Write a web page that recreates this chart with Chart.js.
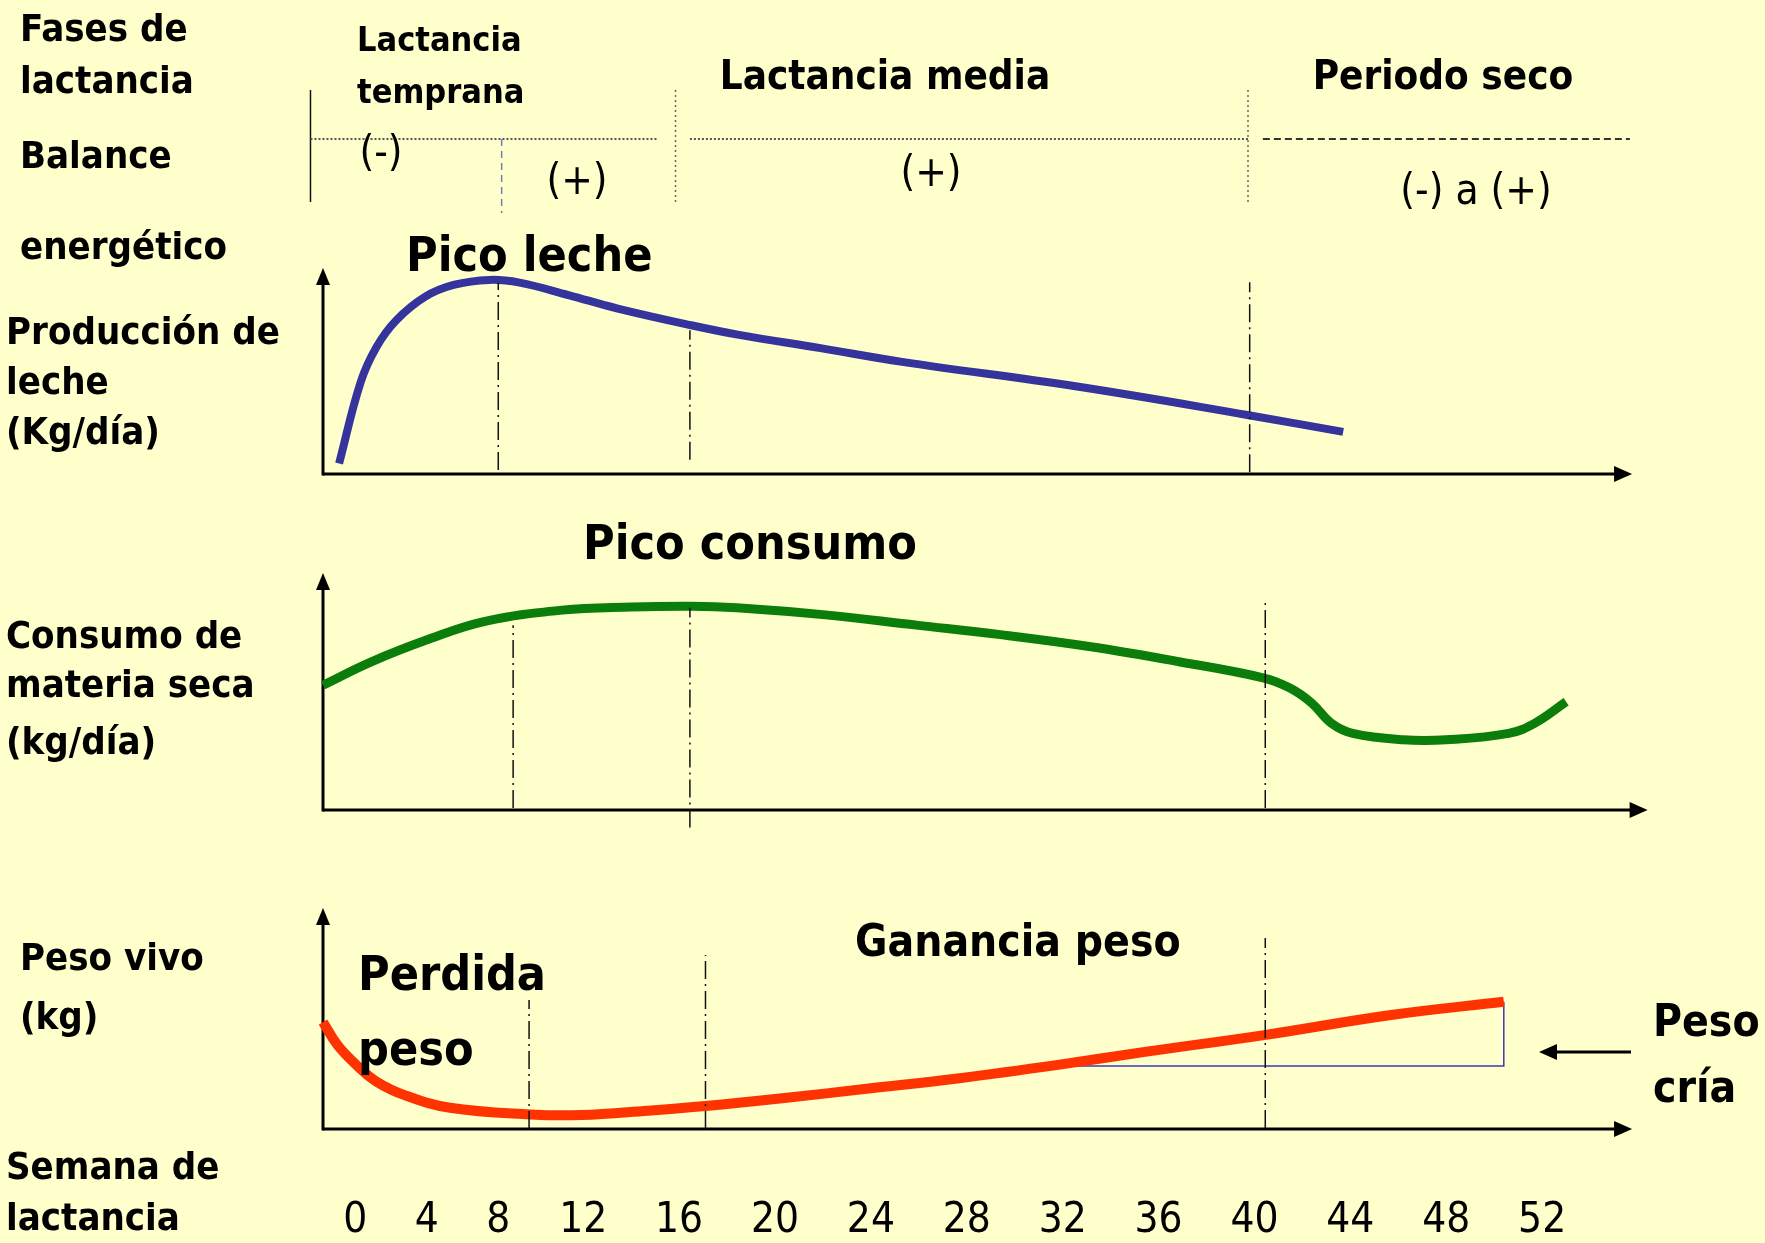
<!DOCTYPE html>
<html lang="es">
<head>
<meta charset="utf-8">
<title>Fases de lactancia</title>
<script src="https://cdn.jsdelivr.net/npm/chart.js@4.4.1/dist/chart.umd.min.js"></script>
<style>
  html, body { margin: 0; padding: 0; background: #ffffcc; }
  #grafico { display: block; }
</style>
</head>
<body>
<canvas id="grafico" width="1765" height="1243"></canvas>
<script>
/* ---------- lactancia.js ---------- */

// Semanas que se rotulan en el eje x
const semanas = [0, 4, 8, 12, 16, 20, 24, 28, 32, 36, 40, 44, 48, 52];

// Produccion de leche (kg/dia)
const lecheSemana = [-0.9, 0.3, 1.2, 2.3, 3.9, 5.5, 7.5, 9, 11.3, 13.4, 16.5, 18.5, 21.9, 25.3, 32.6, 39.7, 43.7];
const lecheKg = [2.3, 20.0, 27.8, 33.6, 38.7, 41.3, 42.4, 41.8, 39.1, 36.2, 32.5, 30.4, 27.5, 24.5, 19.1, 12.9, 9.2];

// Consumo de materia seca (kg/dia)
const consumoSemana = [-1.8, 0.9, 4.1, 7.2, 11.0, 14.0, 16.5, 18.4, 22.1, 25.9, 29.4, 33.1, 36.8, 40.4, 41.5, 42.4, 43.2, 44.1, 46.2, 48.0, 50.6, 51.7, 53.0];
const consumoKg = [15.8, 18.75, 21.6, 23.85, 25.3, 25.7, 25.8, 25.6, 24.7, 23.4, 22.2, 20.7, 18.8, 16.7, 15.4, 13.5, 11.0, 9.7, 8.9, 8.9, 9.7, 11.0, 13.7];

// Peso vivo (kg)
const pesoSemana = [-1.8, -1.0, 0.0, 1.2, 2.8, 5.3, 9.5, 11.9, 14.7, 17.1, 20.3, 24.0, 27.7, 31.8, 35.5, 40.4, 45.7, 50.4];
const pesoKg = [568.4, 558.1, 549.5, 541.4, 535.2, 529.6, 526.6, 526.3, 528.3, 530.4, 533.9, 538.4, 543.0, 549.0, 555.0, 562.5, 571.6, 577.6];

// Peso de la cria (escalon bajo el final de la curva de peso)
const criaSemana = [31.8, 50.4, 50.4];
const criaKg = [548.5, 548.5, 577.6];

// Lineas guia verticales: [semana, desde, hasta] en unidades de cada panel
const guiasLeche = [[8, 0.9, 41.7], [16.45, 3.1, 31.4], [39.8, 0.4, 41.9]];
const guiasConsumo = [[8.7, 0.25, 23.4], [16.45, -2.2, 25.6], [40.45, 0.25, 26.2]];
const guiasPeso = [[9.45, 520, 578.4], [17.1, 520, 598.7], [40.45, 520.5, 606.4]];

const FUENTE = '"DejaVu Sans Condensed", "Liberation Sans Narrow", sans-serif';
const FONDO_AREA = 1243 - 80;   // borde inferior del area de dibujo (alto - eje x)

// Eje de semanas: las primeras semanas van mas juntas que el resto
function posSemana(w) {
  if (w <= 8) return w * 0.746;
  if (w <= 12) return 8 * 0.746 + (w - 8) * 0.886;
  return 8 * 0.746 + 4 * 0.886 + (w - 12);
}

class EscalaSemanas extends Chart.LinearScale {
  getPixelForValue(v) {
    if (v === null || isNaN(v)) return NaN;
    const a = posSemana(this.min), b = posSemana(this.max);
    return this.getPixelForDecimal((posSemana(v) - a) / (b - a));
  }
}
EscalaSemanas.id = 'semanas';
EscalaSemanas.defaults = Chart.LinearScale.defaults;
Chart.register(EscalaSemanas);

// Cada panel usa su propio eje y: base en pxBase y tope en pxTope
function limites(base, tope, pxBase, pxTope) {
  const rango = (tope - base) * FONDO_AREA / (pxBase - pxTope);
  const min = base - (FONDO_AREA - pxBase) * rango / FONDO_AREA;
  return { min: min, max: min + rango };
}

const paneles = [
  { eje: 'yLeche', base: 0, tope: 45, pxBase: 474, pxTope: 268, fin: 55.75 },
  { eje: 'yConsumo', base: 0, tope: 30, pxBase: 810, pxTope: 573, fin: 56.4 },
  { eje: 'yPeso', base: 520, tope: 620, pxBase: 1129, pxTope: 908, fin: 55.75 }
];

const puntos = (xs, ys) => xs.map((x, i) => ({ x: x, y: ys[i] }));

function curva(xs, ys, eje, color, ancho) {
  return {
    data: puntos(xs, ys), yAxisID: eje,
    borderColor: color, borderWidth: ancho,
    pointRadius: 0, tension: 0.4,
    borderCapStyle: 'butt', clip: false, order: 2
  };
}

function guias(lista, eje) {
  return lista.map(g => ({
    data: [{ x: g[0], y: g[1] }, { x: g[0], y: g[2] }], yAxisID: eje,
    borderColor: '#111', borderWidth: 1.5, borderDash: [18, 5, 2, 5],
    pointRadius: 0, tension: 0, clip: false, order: 1
  }));
}

const datasets = [
  curva(lecheSemana, lecheKg, 'yLeche', '#34349c', 8),
  curva(consumoSemana, consumoKg, 'yConsumo', '#0b7d0b', 9),
  curva(pesoSemana, pesoKg, 'yPeso', '#ff3300', 10),
  {
    data: puntos(criaSemana, criaKg), yAxisID: 'yPeso',
    borderColor: '#3b3bb0', borderWidth: 1.5, pointRadius: 0, tension: 0, clip: false, order: 3
  },
  ...guias(guiasLeche, 'yLeche'),
  ...guias(guiasConsumo, 'yConsumo'),
  ...guias(guiasPeso, 'yPeso')
];

// Textos del esquema: [texto, x, y, tamano, negrita, alineacion]
const rotulos = [
  ['Fases de', 20, 31, 38, true],
  ['lactancia', 20, 83, 38, true],
  ['Balance', 20, 158, 38, true],
  ['energético', 20, 249, 38, true],
  ['Producción de', 6, 334, 38, true],
  ['leche', 6, 384, 38, true],
  ['(Kg/día)', 6, 434, 38, true],
  ['Consumo de', 6, 638, 38, true],
  ['materia seca', 6, 687, 38, true],
  ['(kg/día)', 6, 744, 38, true],
  ['Peso vivo', 20, 960, 38, true],
  ['(kg)', 20, 1019, 38, true],
  ['Semana de', 6, 1169, 38, true],
  ['lactancia', 6, 1220, 38, true],
  ['Lactancia', 357, 42, 34, true],
  ['temprana', 357, 94, 34, true],
  ['Lactancia media', 885, 79, 40, true, 'center'],
  ['Periodo seco', 1443, 79, 40, true, 'center'],
  ['(-)', 381, 155, 42, false, 'center'],
  ['(+)', 577, 183, 42, false, 'center'],
  ['(+)', 931, 175, 42, false, 'center'],
  ['(-) a (+)', 1476, 193, 42, false, 'center'],
  ['Pico leche', 406, 259, 48, true],
  ['Pico consumo', 583, 547, 48, true],
  ['Perdida', 358, 978, 48, true],
  ['peso', 358, 1053, 48, true],
  ['Ganancia peso', 855, 945, 44, true],
  ['Peso', 1653, 1025, 44, true],
  ['cría', 1653, 1091, 44, true]
];

function linea(ctx, x0, y0, x1, y1, color, ancho, dash) {
  ctx.save();
  ctx.strokeStyle = color;
  ctx.lineWidth = ancho;
  ctx.setLineDash(dash || []);
  ctx.beginPath();
  ctx.moveTo(x0, y0);
  ctx.lineTo(x1, y1);
  ctx.stroke();
  ctx.restore();
}

function punta(ctx, x, y, dir) {
  // dir: 'arriba', 'derecha' o 'izquierda'
  ctx.save();
  ctx.fillStyle = '#000';
  ctx.beginPath();
  if (dir === 'arriba') {
    ctx.moveTo(x, y); ctx.lineTo(x - 7, y + 17); ctx.lineTo(x + 7, y + 17);
  } else if (dir === 'derecha') {
    ctx.moveTo(x, y); ctx.lineTo(x - 18, y - 8); ctx.lineTo(x - 18, y + 8);
  } else {
    ctx.moveTo(x, y); ctx.lineTo(x + 18, y - 8); ctx.lineTo(x + 18, y + 8);
  }
  ctx.closePath();
  ctx.fill();
  ctx.restore();
}

const esquema = {
  id: 'esquema',
  beforeDraw(chart) {
    const ctx = chart.ctx;
    ctx.save();
    ctx.fillStyle = '#ffffcc';
    ctx.fillRect(0, 0, chart.width, chart.height);
    ctx.restore();
  },
  beforeDatasetsDraw(chart) {
    const ctx = chart.ctx;
    const x = chart.scales.x;

    // Ejes de cada panel con flecha
    paneles.forEach(p => {
      const y = chart.scales[p.eje];
      const x0 = x.left;
      const y0 = y.getPixelForValue(p.base);
      const yTope = y.getPixelForValue(p.tope);
      const xFin = x.getPixelForValue(p.fin);
      linea(ctx, x0, y0, xFin - 10, y0, '#000', 3);
      linea(ctx, x0, y0 + 1.5, x0, yTope + 10, '#000', 3);
      punta(ctx, x0, yTope, 'arriba');
      punta(ctx, xFin, y0, 'derecha');
    });

    // Balance energetico: separadores de las fases
    const px = w => x.getPixelForValue(w);
    linea(ctx, px(-2.5), 90, px(-2.5), 202, '#111', 1.5);
    linea(ctx, px(-2.5), 139, px(15.1), 139, '#555', 2, [2, 2]);
    linea(ctx, px(15.85), 90, px(15.85), 202, '#666', 1.5, [2, 3]);
    linea(ctx, px(16.45), 139, px(39.73), 139, '#555', 2, [2, 2]);
    linea(ctx, px(39.73), 90, px(39.73), 205, '#666', 1.5, [2, 3]);
    linea(ctx, px(40.35), 139, px(55.66), 139, '#333', 2, [7, 4]);
    linea(ctx, px(8.16), 139, px(8.16), 213, '#7a7ab8', 1.5, [7, 5]);

    // Flecha que senala el peso de la cria
    linea(ctx, 1631, 1052, 1552, 1052, '#000', 3);
    punta(ctx, 1539, 1052, 'izquierda');
  },
  afterDatasetsDraw(chart) {
    const ctx = chart.ctx;
    ctx.save();
    ctx.fillStyle = '#000';
    ctx.textBaseline = 'middle';
    rotulos.forEach(r => {
      ctx.font = (r[4] ? 'bold ' : '') + r[3] + 'px ' + FUENTE;
      ctx.textAlign = r[5] || 'left';
      ctx.fillText(r[0], r[1], r[2]);
    });
    ctx.restore();
  }
};

const escalas = {
  x: {
    type: 'semanas',
    min: -1.8,
    max: 58,
    bounds: 'data',
    grid: { display: false, drawTicks: false },
    border: { display: false },
    afterBuildTicks: s => { s.ticks = semanas.map(v => ({ value: v })); },
    afterFit: s => { s.height = 80; },
    ticks: {
      autoSkip: false, maxRotation: 0, minRotation: 0, padding: 33,
      color: '#000', font: { family: FUENTE, size: 42 }
    }
  }
};
paneles.forEach(p => {
  escalas[p.eje] = Object.assign({ display: false, position: 'left' },
    limites(p.base, p.tope, p.pxBase, p.pxTope));
});

new Chart(document.getElementById('grafico').getContext('2d'), {
  type: 'line',
  data: { datasets: datasets },
  options: {
    responsive: false,
    animation: false,
    events: [],
    layout: { padding: { left: 323, right: 79, top: 0, bottom: 0 } },
    plugins: { legend: { display: false }, tooltip: { enabled: false } },
    scales: escalas
  },
  plugins: [esquema]
});
</script>
</body>
</html>
